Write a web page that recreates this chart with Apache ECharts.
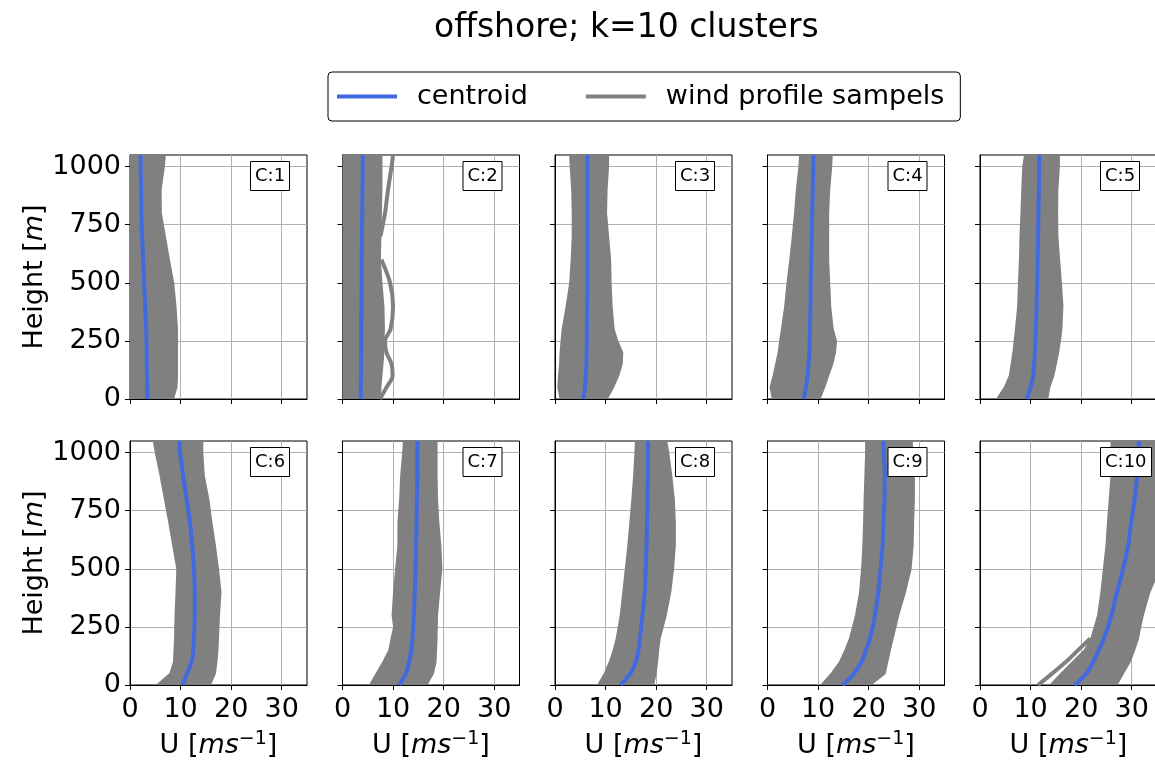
<!DOCTYPE html>
<html>
<head>
<meta charset="utf-8">
<script src="https://cdn.jsdelivr.net/npm/echarts@6/dist/echarts.min.js"></script>
<style>
  html, body { margin: 0; padding: 0; background: #fff; }
  #chart { width: 1155px; height: 760px; }
</style>
</head>
<body>
<div id="chart"></div>
<script>
// Hauteurs communes (m) des profils
const heights = [0, 50, 100, 150, 200, 250, 300, 400, 500, 600, 700, 800, 900, 1000, 1050];

const clusterNames = ['C:1', 'C:2', 'C:3', 'C:4', 'C:5', 'C:6', 'C:7', 'C:8', 'C:9', 'C:10'];
const xTicks = [0, 10, 20, 30];
const yTicks = [0, 250, 500, 750, 1000];

// Profil centroide (U en m/s) pour chaque cluster
const centroid1 = [3.4, 3.4, 3.35, 3.3, 3.3, 3.25, 3.2, 3.0, 2.8, 2.6, 2.4, 2.25, 2.2, 2.1, 2.1];
const centroid2 = [3.6, 3.6, 3.65, 3.65, 3.7, 3.7, 3.7, 3.75, 3.8, 3.8, 3.85, 3.9, 3.95, 4.0, 4.0];
const centroid3 = [5.6, 5.9, 6.1, 6.2, 6.25, 6.3, 6.3, 6.35, 6.4, 6.4, 6.4, 6.4, 6.4, 6.4, 6.4];
const centroid4 = [7.2, 7.6, 7.9, 8.1, 8.3, 8.35, 8.4, 8.5, 8.55, 8.65, 8.75, 8.85, 8.95, 9.05, 9.1];
const centroid5 = [9.2, 10.0, 10.5, 10.7, 10.85, 10.95, 11.05, 11.2, 11.3, 11.4, 11.5, 11.55, 11.65, 11.7, 11.7];
const centroid6 = [10.4, 11.3, 12.2, 12.5, 12.65, 12.75, 12.8, 12.8, 12.65, 12.3, 11.85, 11.2, 10.5, 9.9, 9.75];
const centroid7 = [11.2, 12.55, 13.2, 13.6, 13.85, 14.0, 14.1, 14.3, 14.45, 14.55, 14.65, 14.7, 14.8, 14.8, 14.8];
const centroid8 = [13.0, 14.9, 16.0, 16.5, 16.8, 17.05, 17.3, 17.75, 17.95, 18.1, 18.2, 18.3, 18.35, 18.4, 18.4];
const centroid9 = [14.9, 17.1, 18.6, 19.5, 20.25, 20.8, 21.25, 21.9, 22.35, 22.75, 22.9, 23.15, 23.2, 23.0, 22.9];
const centroid10 = [18.75, 21.05, 22.4, 23.5, 24.5, 25.3, 26.0, 27.1, 28.3, 29.3, 29.9, 30.6, 31.05, 31.25, 31.45];

// Enveloppe gauche / droite du faisceau d'échantillons
const samplesLow1 = [0, 0, 0, 0, 0, 0, 0, 0, 0, 0, 0, 0, 0, 0, 0];
const samplesHigh1 = [8.5, 9.2, 9.3, 9.3, 9.3, 9.3, 9.3, 9.0, 8.55, 7.7, 6.9, 6.1, 6.05, 6.7, 6.9];
const samplesLow2 = [0, 0, 0, 0, 0, 0, 0, 0, 0, 0, 0, 0, 0, 0, 0];
const samplesHigh2 = [7.4, 7.5, 7.7, 7.9, 8.1, 8.1, 8.2, 8.1, 7.7, 7.4, 7.5, 7.6, 7.7, 7.7, 7.7];
const samplesLow3 = [1.1, 0.65, 0.8, 1.0, 1.1, 1.3, 1.5, 2.3, 3.0, 3.3, 3.5, 3.5, 3.4, 3.1, 3.0];
const samplesHigh3 = [10.2, 11.5, 12.5, 13.2, 13.3, 12.3, 11.6, 11.2, 11.0, 10.9, 10.5, 10.1, 10.2, 10.5, 10.5];
const samplesLow4 = [1.05, 0.6, 1.2, 1.7, 2.2, 2.5, 2.85, 3.5, 3.95, 4.5, 5.0, 5.45, 5.8, 6.3, 6.45];
const samplesHigh4 = [10.3, 11.2, 12.0, 12.8, 13.35, 13.55, 12.9, 12.4, 12.2, 12.0, 12.0, 12.0, 12.2, 12.6, 12.7];
const samplesLow5 = [3.4, 4.9, 5.9, 6.25, 6.6, 6.85, 7.1, 7.55, 7.7, 7.9, 8.0, 8.2, 8.35, 8.55, 8.9];
const samplesHigh5 = [13.3, 13.7, 14.5, 15.0, 15.45, 15.8, 16.1, 16.3, 16.0, 15.65, 15.3, 15.25, 15.3, 15.6, 15.6];
const samplesLow6 = [5.4, 8.0, 8.7, 8.8, 8.9, 8.95, 9.0, 9.2, 9.35, 8.55, 7.75, 6.9, 6.05, 5.1, 4.7];
const samplesHigh6 = [15.8, 16.8, 17.1, 17.3, 17.4, 17.5, 17.6, 17.9, 17.4, 16.8, 16.1, 15.5, 14.6, 14.3, 14.3];
const samplesLow7 = [5.45, 6.75, 8.1, 9.25, 9.7, 10.2, 9.9, 10.2, 10.6, 11.05, 11.05, 11.4, 11.6, 12.0, 12.15];
const samplesHigh7 = [16.6, 17.9, 18.4, 18.5, 18.6, 18.65, 18.7, 19.1, 19.55, 19.35, 18.95, 18.7, 18.6, 18.6, 18.6];
const samplesLow8 = [8.55, 9.85, 10.85, 11.6, 12.2, 12.6, 13.0, 13.5, 14.0, 14.5, 14.9, 15.3, 15.65, 15.9, 16.0];
const samplesHigh8 = [19.4, 19.9, 20.2, 20.4, 20.7, 21.3, 21.9, 22.8, 23.35, 23.7, 23.7, 23.5, 23.0, 22.4, 22.0];
const samplesLow9 = [10.7, 12.7, 14.35, 15.4, 16.3, 16.9, 17.5, 18.3, 18.7, 18.95, 19.1, 19.2, 19.35, 19.5, 19.5];
const samplesHigh9 = [20.3, 23.2, 23.7, 24.2, 24.75, 25.3, 25.85, 27.2, 28.3, 28.7, 28.8, 28.95, 28.95, 28.7, 28.5];
const samplesLow10 = [13.95, 16.1, 18.4, 20.7, 22.0, 22.7, 23.35, 24.0, 24.5, 25.0, 25.3, 25.65, 26.0, 26.0, 26.0];
const samplesHigh10 = [27.0, 28.3, 29.6, 30.5, 31.25, 31.7, 32.2, 33.5, 35.5, 37, 38, 38, 38, 38, 38];

// Quelques échantillons isolés qui sortent du faisceau
const outlier2a = [null, null, null, null, null, null, null, null, null, null, 7.5, 8.4, 9.0, 9.7, 10.0];
const outlier2b = [7.4, 8.7, 9.9, 9.7, 8.7, 8.4, 9.5, 10.0, 9.4, 7.7, null, null, null, null, null];
const outlier10 = [11.5, 14.3, 17.0, 19.4, 21.8, null, null, null, null, null, null, null, null, null, null];

const centroids = [centroid1, centroid2, centroid3, centroid4, centroid5, centroid6, centroid7, centroid8, centroid9, centroid10];
const lows = [samplesLow1, samplesLow2, samplesLow3, samplesLow4, samplesLow5, samplesLow6, samplesLow7, samplesLow8, samplesLow9, samplesLow10];
const highs = [samplesHigh1, samplesHigh2, samplesHigh3, samplesHigh4, samplesHigh5, samplesHigh6, samplesHigh7, samplesHigh8, samplesHigh9, samplesHigh10];
const outliers = [[1, outlier2a], [1, outlier2b], [9, outlier10]];

const FONT = 'DejaVu Sans';
const BLUE = '#4169E1';
const GRAY = '#808080';

const panelLeft = [130, 342.5, 555, 767.5, 980];
const panelTop = [155, 441];
const panelW = 177;
const panelH = 244;

function toPoints(vals) {
    return heights.map((h, i) => [vals[i], h]);
}

// Faisceau des échantillons : polygone entre les deux enveloppes
function bandRenderer(lo, hi) {
    return function (params, api) {
        const pts = [];
        heights.forEach((h, i) => pts.push(api.coord([lo[i], h])));
        for (let i = heights.length - 1; i >= 0; i--) {
            pts.push(api.coord([hi[i], heights[i]]));
        }
        const cs = params.coordSys;
        return {
            type: 'polygon',
            shape: { points: pts },
            style: { fill: GRAY, stroke: GRAY, lineWidth: 2 },
            clipPath: { type: 'rect', shape: { x: cs.x, y: cs.y, width: cs.width, height: cs.height } }
        };
    };
}

const grids = [], xAxes = [], yAxes = [], series = [];
const titles = [{
    text: 'offshore; k=10 clusters',
    left: 434, top: 12, padding: 0,
    textStyle: { fontFamily: FONT, fontSize: 33, fontWeight: 'normal', color: '#000' }
}];

for (let k = 0; k < 10; k++) {
    const row = Math.floor(k / 5), col = k % 5;
    grids.push({
        left: panelLeft[col], top: panelTop[row], width: panelW, height: panelH,
        show: true, borderColor: '#000', borderWidth: 1, backgroundColor: 'transparent',
        containLabel: false, outerBoundsMode: 'none'
    });
    xAxes.push({
        gridIndex: k, type: 'value', min: 0, max: 35,
        axisLine: { show: true, lineStyle: { color: '#000', width: 1 } },
        axisTick: { show: true, length: 5, lineStyle: { color: '#000' }, customValues: xTicks },
        axisLabel: {
            show: row === 1, customValues: xTicks, formatter: v => String(v),
            fontFamily: FONT, fontSize: 27, color: '#000', margin: 11
        },
        splitLine: { show: true, lineStyle: { color: '#b0b0b0', width: 1 } },
        name: row === 1 ? '{n|U [}{i|ms}{s|\u22121}{n|]}' : '',
        nameLocation: 'middle', nameGap: 45,
        nameTextStyle: {
            fontFamily: FONT, fontSize: 27, color: '#000',
            rich: {
                n: { fontFamily: FONT, fontSize: 27, color: '#000' },
                i: { fontFamily: FONT, fontSize: 27, fontStyle: 'italic', color: '#000' },
                s: { fontFamily: FONT, fontSize: 19, color: '#000', verticalAlign: 'top', padding: [0, 0, 12, 0] }
            }
        }
    });
    yAxes.push({
        gridIndex: k, type: 'value', min: 0, max: 1050,
        axisLine: { show: true, lineStyle: { color: '#000', width: 1 } },
        axisTick: { show: true, length: 5, lineStyle: { color: '#000' }, customValues: yTicks },
        axisLabel: {
            show: col === 0, customValues: yTicks, formatter: v => String(v),
            fontFamily: FONT, fontSize: 27, color: '#000', margin: 9
        },
        splitLine: { show: true, lineStyle: { color: '#b0b0b0', width: 1 } },
        name: col === 0 ? '{n|Height [}{i|m}{n|]}' : '',
        nameLocation: 'middle', nameGap: 79, nameRotate: 90,
        nameTextStyle: {
            fontFamily: FONT, fontSize: 27, color: '#000',
            rich: {
                n: { fontFamily: FONT, fontSize: 27, color: '#000' },
                i: { fontFamily: FONT, fontSize: 27, fontStyle: 'italic', color: '#000' }
            }
        }
    });
    series.push({
        name: 'wind profile sampels', type: 'custom',
        xAxisIndex: k, yAxisIndex: k,
        itemStyle: { color: GRAY },
        renderItem: bandRenderer(lows[k], highs[k]),
        data: [[lows[k][0], heights[0]]],
        z: 2, silent: true
    });
    titles.push({
        text: clusterNames[k],
        left: panelLeft[col] + 120, top: panelTop[row] + 6,
        padding: [5, 5], borderWidth: 1, borderColor: '#000', backgroundColor: '#fff',
        textStyle: { fontFamily: FONT, fontSize: 18, fontWeight: 'normal', color: '#000', lineHeight: 20 }
    });
}

outliers.forEach(([k, vals]) => {
    series.push({
        name: 'wind profile sampels', type: 'line',
        xAxisIndex: k, yAxisIndex: k,
        data: toPoints(vals), smooth: 0.3, symbol: 'none', connectNulls: false,
        lineStyle: { color: GRAY, width: 4 }, itemStyle: { color: GRAY },
        z: 2, silent: true
    });
});

for (let k = 0; k < 10; k++) {
    series.push({
        name: 'centroid', type: 'line',
        xAxisIndex: k, yAxisIndex: k,
        data: toPoints(centroids[k]), smooth: 0.3, symbol: 'none',
        lineStyle: { color: BLUE, width: 4 }, itemStyle: { color: BLUE },
        z: 3, silent: true
    });
}

const chart = echarts.init(document.getElementById('chart'));
chart.setOption({
    animation: false,
    backgroundColor: '#fff',
    title: titles,
    legend: {
        left: 328, top: 72,
        padding: [11, 16, 11, 9],
        itemWidth: 60, itemHeight: 4, itemGap: 58,
        borderColor: '#000', borderWidth: 1, borderRadius: 4, backgroundColor: '#fff',
        textStyle: { fontFamily: FONT, fontSize: 27, color: '#000', padding: [0, 0, 0, 15] },
        data: [
            { name: 'centroid', icon: 'rect', itemStyle: { color: BLUE } },
            { name: 'wind profile sampels', icon: 'rect', itemStyle: { color: GRAY } }
        ]
    },
    grid: grids,
    xAxis: xAxes,
    yAxis: yAxes,
    series: series
});
</script>
</body>
</html>
